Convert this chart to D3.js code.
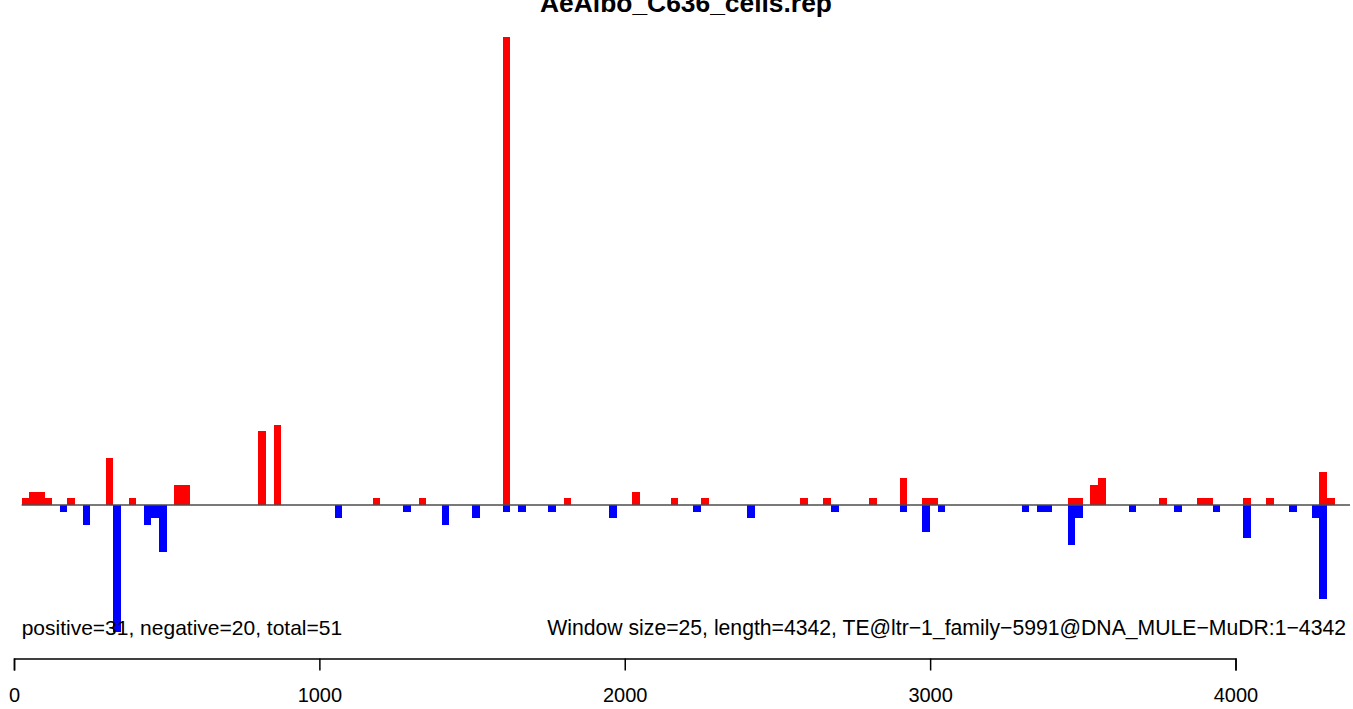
<!DOCTYPE html>
<html>
<head>
<meta charset="utf-8">
<script src="https://cdn.jsdelivr.net/npm/d3@7"></script>
<style>
  html, body { margin: 0; padding: 0; background: #fff; }
  svg { display: block; font-family: "Liberation Sans", Arial, Helvetica, sans-serif; }
</style>
</head>
<body>
<svg id="chart" width="1353" height="709"></svg>
<script>
// ---- data ----
const title = "AeAlbo_C636_cells.rep";
const windowSize = 25;
const teLength = 4342;
const windowCount = 175;
// window index (start = index * windowSize) and count for sense (positive) reads
const positiveWindows = [1, 2, 3, 4, 7, 12, 15, 21, 22, 32, 34, 47, 53, 64, 72, 81, 86, 90, 103, 106, 112, 116, 119, 120, 138, 139, 141, 142, 150, 155, 156, 161, 164, 171, 172];
const positiveValues  = [1, 2, 2, 1, 1, 7, 1, 3, 3, 11, 12, 1, 1, 70, 1, 2, 1, 1, 1, 1, 1, 4, 1, 1, 1, 1, 3, 4, 1, 1, 1, 1, 1, 5, 1];
// window index and count for antisense (negative) reads
const negativeWindows = [6, 9, 13, 17, 18, 19, 42, 51, 56, 60, 64, 66, 70, 78, 89, 96, 107, 116, 119, 121, 132, 134, 135, 138, 139, 146, 152, 157, 161, 167, 170, 171];
const negativeValues  = [1, 3, 19, 3, 2, 7, 2, 1, 3, 2, 1, 1, 1, 2, 1, 2, 1, 1, 4, 1, 1, 1, 1, 6, 2, 1, 1, 1, 5, 1, 2, 14];
const xTicks = [0, 1000, 2000, 3000, 4000];
const leftNote = "positive=31, negative=20, total=51";
const rightNote = "Window size=25, length=4342, TE@ltr\u22121_family\u22125991@DNA_MULE\u2212MuDR:1\u22124342";

// ---- layout ----
const svg = d3.select("#chart");
const x = d3.scaleLinear().domain([0, 4000]).range([14, 1235.5]);
const y = d3.scaleLinear().domain([-19, 70]).range([632.0, 37.0]);

// title (clipped at the top edge, as in the reference)
svg.append("text")
  .attr("x", 686).attr("y", 12)
  .attr("text-anchor", "middle")
  .attr("font-weight", "bold")
  .attr("font-size", 26.4)
  .text(title);

// bars
const pos = positiveWindows.map((w, i) => ({w, v: positiveValues[i]}));
const neg = negativeWindows.map((w, i) => ({w, v: negativeValues[i]}));

svg.append("g").attr("shape-rendering", "crispEdges")
  .selectAll("rect").data(pos).join("rect")
  .attr("x", d => x(d.w * windowSize))
  .attr("width", d => x((d.w + 1) * windowSize) - x(d.w * windowSize))
  .attr("y", d => y(d.v))
  .attr("height", d => y(0) - y(d.v))
  .attr("fill", "#FF0000");

svg.append("g").attr("shape-rendering", "crispEdges")
  .selectAll("rect").data(neg).join("rect")
  .attr("x", d => x(d.w * windowSize))
  .attr("width", d => x((d.w + 1) * windowSize) - x(d.w * windowSize))
  .attr("y", y(0))
  .attr("height", d => y(-d.v) - y(0))
  .attr("fill", "#0000FF");

// baseline
svg.append("line")
  .attr("x1", x(windowSize)).attr("x2", x(windowCount * windowSize))
  .attr("y1", y(0)).attr("y2", y(0))
  .attr("stroke", "#4d4d4d").attr("stroke-width", 1.3);

// notes
svg.append("text")
  .attr("x", x(windowSize)).attr("y", 635)
  .attr("font-size", 21)
  .text(leftNote);
svg.append("text")
  .attr("x", 1346).attr("y", 635)
  .attr("text-anchor", "end")
  .attr("font-size", 21.2)
  .text(rightNote);

// x axis
const axis = d3.axisBottom(x).tickValues(xTicks).tickSize(12).tickPadding(17).tickFormat(d3.format("d"));
const gAxis = svg.append("g").attr("transform", "translate(0,658.5)").call(axis);
gAxis.select(".domain").attr("stroke", "#000").attr("stroke-width", 1.5);
gAxis.selectAll(".tick line").attr("stroke", "#000").attr("stroke-width", 1.5);
gAxis.selectAll(".tick text")
  .attr("font-size", 20)
  .attr("font-family", "Liberation Sans, Arial, sans-serif")
  .attr("fill", "#000");
</script>
</body>
</html>
